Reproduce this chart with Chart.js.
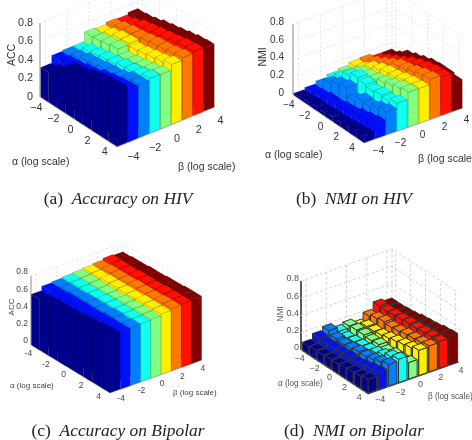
<!DOCTYPE html>
<html><head><meta charset="utf-8">
<script src="https://cdn.jsdelivr.net/npm/chart.js@4"></script>
<style>
html,body{margin:0;padding:0;background:#fff;width:472px;height:440px;overflow:hidden}
canvas{position:absolute;filter:blur(0.35px)}
.cap{position:absolute;font:17.4px "Liberation Serif",serif;color:#222;white-space:pre;text-align:center;width:236px}
.cap i{font-style:italic}
</style></head><body>
<canvas id="c0" width="236" height="220" style="left:0;top:0"></canvas>
<canvas id="c1" width="236" height="220" style="left:236px;top:0"></canvas>
<canvas id="c2" width="236" height="220" style="left:0;top:220px"></canvas>
<canvas id="c3" width="236" height="220" style="left:236px;top:220px"></canvas>
<div class="cap" style="left:0;top:188px">(a)  <i>Accuracy on HIV</i></div>
<div class="cap" style="left:236px;top:188px">(b)  <i>NMI on HIV</i></div>
<div class="cap" style="left:0;top:420px">(c)  <i>Accuracy on Bipolar</i></div>
<div class="cap" style="left:236px;top:420px">(d)  <i>NMI on Bipolar</i></div>
<script>
const alphaValues = [-4,-3,-2,-1,0,1,2,3,4];
const betaValues  = [-4,-3,-2,-1,0,1,2,3,4];
const betaColors  = ['#00008f','#0010ff','#0080ff','#10ffef','#80ff80','#ffee00','#ff7800','#ff1000','#800000'];
const axisTicks   = [-4,-2,0,2,4];
const zTicks      = [0,0.2,0.4,0.6,0.8];

// rows: alpha -4..4, columns: beta -4..4
const accHiv = [
 [.32,.40,.41,.41,.51,.50,.52,.51,.53],
 [.37,.42,.43,.45,.52,.53,.55,.54,.54],
 [.43,.43,.46,.47,.54,.56,.57,.58,.56],
 [.51,.46,.47,.49,.56,.57,.58,.60,.59],
 [.52,.47,.49,.50,.50,.55,.60,.62,.61],
 [.56,.51,.50,.53,.52,.57,.62,.64,.63],
 [.585,.53,.52,.54,.54,.59,.63,.66,.65],
 [.60,.55,.56,.56,.56,.61,.65,.68,.67],
 [.61,.56,.57,.59,.585,.645,.67,.69,.68]];
const nmiHiv = [
 [.02,.04,.07,.10,.12,.15,.16,.13,.13],
 [.03,.05,.15,.17,.17,.18,.20,.18,.17],
 [.04,.07,.20,.25,.24,.25,.25,.23,.24],
 [.04,.07,.23,.30,.26,.29,.30,.28,.27],
 [.05,.09,.14,.28,.28,.32,.35,.33,.30],
 [.05,.10,.20,.26,.31,.33,.37,.37,.33],
 [.06,.13,.19,.28,.34,.36,.40,.40,.34],
 [.07,.15,.23,.27,.37,.38,.43,.42,.34],
 [.08,.17,.26,.31,.39,.39,.45,.43,.32]];
const accBipolar = [
 [.59,.64,.65,.66,.67,.68,.69,.71,.70],
 [.60,.64,.65,.66,.67,.68,.70,.71,.71],
 [.61,.65,.65,.66,.67,.69,.70,.71,.71],
 [.61,.65,.66,.66,.67,.69,.70,.72,.72],
 [.62,.65,.66,.67,.67,.69,.71,.72,.72],
 [.63,.65,.66,.67,.68,.69,.71,.72,.73],
 [.64,.66,.67,.67,.68,.70,.71,.73,.73],
 [.65,.66,.66,.67,.68,.70,.72,.73,.74],
 [.66,.66,.67,.67,.68,.70,.72,.73,.74]];
const nmiBipolar = [
 [.09,.15,.19,.14,.16,.12,.19,.27,.24],
 [.10,.13,.15,.12,.17,.17,.22,.26,.24],
 [.10,.14,.14,.13,.17,.17,.24,.27,.25],
 [.11,.14,.15,.14,.16,.18,.23,.28,.26],
 [.11,.15,.17,.15,.17,.20,.24,.29,.28],
 [.12,.14,.17,.17,.15,.22,.26,.29,.29],
 [.13,.16,.19,.20,.17,.24,.27,.30,.30],
 [.14,.18,.22,.24,.17,.26,.28,.31,.32],
 [.16,.20,.25,.27,.19,.29,.30,.31,.33]];

const panels = [
 {id:'c0',values:accHiv,zName:'ACC',L:[40,97],F:[117,147],R:[215,107],zPx:74,width:.92,
  edge:'rgba(0,0,0,.2)',lw:.8,grid:'#e6e6e6',gridW:1,axis:'#bbb',text:'#333',font:10.5,tick:10.8,
  zRight:33,zLift:0,aOff:[-8,8],bOff:[11,12],aLabel:[12,162],bLabel:[178,167],zLabel:[12,55],minus:'\u2212'},
 {id:'c1',values:nmiHiv,zName:'NMI',L:[57,95],F:[128,143],R:[227,108],zPx:71,width:.92,
  edge:'rgba(0,0,0,.2)',lw:.8,grid:'#e6e6e6',gridW:1,axis:'#bbb',text:'#333',font:10.5,tick:10,
  zRight:48,zLift:2,aOff:[-8,8],bOff:[9,10],aLabel:[29,155],bLabel:[182,159],zLabel:[27,57],minus:'\u2212'},
 {id:'c2',values:accBipolar,zName:'ACC',L:[31,125],F:[110,173],R:[202,140],zPx:69,width:.96,
  edge:'rgba(0,0,0,.16)',lw:.8,grid:'#e6e6e6',gridW:1,axis:'#bbb',text:'#444',font:8,tick:8.5,
  zRight:28,zLift:4,aOff:[-7,6],bOff:[6,7],aLabel:[10,166],bLabel:[173,173],zLabel:[12,87],minus:'-'},
 {id:'c3',values:nmiBipolar,zName:'NMI',L:[65,130],F:[132,174],R:[223,142],zPx:69,width:.84,
  edge:'#333',lw:1,grid:'#d4d4d4',gridW:1,dash:[3,2],axis:'#444',text:'#555',font:8.2,tick:9,
  zRight:63,zLift:2,aOff:[-5,6],bOff:[7,7],aLabel:[42,164],bLabel:[192,177],zLabel:[45,94],minus:'\u2212'}
];

function projector(p){
  return (a,b,z)=>{
    const s=(a+4.5)/9,t=(b+4.5)/9;
    return {x:p.L[0]+s*(p.F[0]-p.L[0])+t*(p.R[0]-p.F[0]),
            y:p.L[1]+s*(p.F[1]-p.L[1])+t*(p.R[1]-p.F[1])-z/0.8*p.zPx};
  };
}

const cuboidPlugin={
  id:'cuboids',
  afterDatasetDraw(chart,args){
    const ds=chart.data.datasets[args.index];
    if(!ds.cuboid)return;
    const pts=args.meta.data,ctx=chart.ctx;
    ctx.save();
    ctx.fillStyle=ds.cuboid.fill;ctx.strokeStyle=ds.cuboid.edge;ctx.lineWidth=ds.cuboid.lw;ctx.lineJoin='round';
    for(let i=0;i+3<pts.length;i+=4){
      ctx.beginPath();
      ctx.moveTo(pts[i].x,pts[i].y);
      for(let k=1;k<4;k++)ctx.lineTo(pts[i+k].x,pts[i+k].y);
      ctx.closePath();ctx.fill();ctx.stroke();
    }
    ctx.restore();
  },
  afterDraw(chart){
    const p=chart.options.plugins.cuboids.panel,P=projector(p),ctx=chart.ctx;
    const X=v=>chart.scales.x.getPixelForValue(v),Y=v=>chart.scales.y.getPixelForValue(v);
    const fmt=v=>v<0?p.minus+Math.abs(v):String(v);
    ctx.save();
    ctx.fillStyle=p.text;ctx.textBaseline='middle';
    ctx.font=p.tick+'px "Liberation Sans",sans-serif';
    ctx.textAlign='right';
    zTicks.forEach(z=>{const q=P(-4.5,-4.5,z);ctx.fillText(z===0?'0':String(z),p.zRight,Y(q.y-p.zLift));});
    ctx.textAlign='center';
    axisTicks.forEach(v=>{
      const q=P(v,-4.5,0);ctx.fillText(fmt(v),X(q.x+p.aOff[0]),Y(q.y+p.aOff[1]));
      const r=P(4.5,v,0);ctx.fillText(fmt(v),X(r.x+p.bOff[0]),Y(r.y+p.bOff[1]));
    });
    ctx.font=p.font+'px "Liberation Sans",sans-serif';
    ctx.textAlign='left';
    ctx.fillText('\u03b1 (log scale)',p.aLabel[0],p.aLabel[1]);
    ctx.fillText('\u03b2 (log scale)',p.bLabel[0],p.bLabel[1]);
    ctx.translate(p.zLabel[0],p.zLabel[1]);ctx.rotate(-Math.PI/2);ctx.textAlign='center';
    ctx.fillText(p.zName,0,0);
    ctx.restore();
  }
};

panels.forEach(p=>{
  const P=projector(p),h=p.width/2,datasets=[];
  betaValues.forEach((b,j)=>{
    const pts=[];
    alphaValues.forEach((a,i)=>{
      const v=p.values[i][j];
      pts.push(P(a-h,b-h,v),P(a+h,b-h,v),P(a+h,b+h,v),P(a-h,b+h,v));
      pts.push(P(a-h,b-h,0),P(a+h,b-h,0),P(a+h,b-h,v),P(a-h,b-h,v));
      pts.push(P(a+h,b-h,0),P(a+h,b+h,0),P(a+h,b+h,v),P(a+h,b-h,v));
    });
    datasets.push({data:pts,showLine:false,pointRadius:0,cuboid:{fill:betaColors[j],edge:p.edge,lw:p.lw}});
  });
  const grid=[],gap=()=>grid.push({x:null,y:null}),e=4.5,top=.8;
  zTicks.forEach(z=>{grid.push(P(-e,-e,z),P(-e,e,z),P(e,e,z));gap();});
  axisTicks.forEach(v=>{
    grid.push(P(v,-e,0),P(v,e,0),P(v,e,top));gap();
    grid.push(P(-e,v,top),P(-e,v,0),P(e,v,0));gap();
  });
  grid.push(P(-e,e,0),P(-e,e,top));gap();
  datasets.push({data:grid,showLine:true,spanGaps:false,pointRadius:0,borderColor:p.grid,borderWidth:p.gridW,borderDash:p.dash||[2,2]});
  const axis=[P(-e,-e,top),P(-e,-e,0),P(e,-e,0),P(e,e,0)];
  datasets.push({data:axis,showLine:true,pointRadius:0,borderColor:p.axis,borderWidth:1});
  new Chart(document.getElementById(p.id),{
    type:'scatter',
    data:{datasets},
    options:{
      responsive:false,animation:false,
      layout:{padding:0},
      elements:{line:{tension:0}},
      scales:{
        x:{type:'linear',display:false,min:0,max:236},
        y:{type:'linear',display:false,min:0,max:220,reverse:true}
      },
      plugins:{legend:{display:false},tooltip:{enabled:false},cuboids:{panel:p}}
    },
    plugins:[cuboidPlugin]
  });
});
</script>
</body></html>
